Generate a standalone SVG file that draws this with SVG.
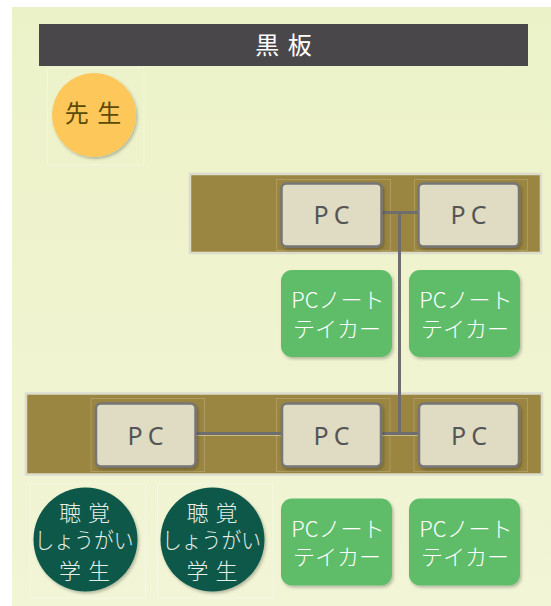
<svg xmlns="http://www.w3.org/2000/svg" width="551" height="606" viewBox="0 0 551 606">
  <defs>
    <linearGradient id="bg" x1="0" y1="0" x2="0" y2="1">
      <stop offset="0" stop-color="#ecf2c8"/>
      <stop offset="1" stop-color="#f2f5d6"/>
    </linearGradient>
    <filter id="sh" x="-20%" y="-20%" width="150%" height="150%">
      <feDropShadow dx="1.5" dy="2" stdDeviation="1.5" flood-color="#000" flood-opacity="0.25"/>
    </filter>
    <style>
      .jp { font-family: "Noto Sans CJK JP", "Noto Sans", sans-serif; }
      .desk { fill: #9a8640; stroke: #dcdccc; stroke-width: 2.5; }
      .cell { fill: none; stroke: #ffffff; stroke-opacity: 0.18; stroke-width: 1; }
      .pc { fill: #e0dbc3; stroke: #767676; stroke-width: 2.5; filter: url(#sh); }
      .pct { font-family: "Noto Sans", "Liberation Sans", sans-serif; font-size: 25px; fill: #555555; letter-spacing: 5px; text-anchor: middle; }
      .note { fill: #5fbd6a; filter: url(#sh); }
      .notet { font-family: "Noto Sans CJK JP", sans-serif; font-size: 22px; font-weight: 300; fill: #ffffff; text-anchor: middle; }
      .stu { fill: #0b5849; filter: url(#sh); }
      .stut { font-family: "Noto Sans CJK JP", sans-serif; font-size: 22px; font-weight: 300; fill: #e6efe8; text-anchor: middle; word-spacing: 2px; }
      .conn { stroke: #6e6e6e; stroke-width: 3; fill: none; }
      .hl { stroke: #d8d2a0; stroke-width: 1; stroke-opacity: 0.7; }
    </style>
  </defs>

  <rect x="12" y="7" width="539" height="599" fill="url(#bg)"/>

  <g id="blackboard">
    <rect x="39" y="24" width="489" height="42" fill="#4a474a"/>
    <text class="jp" x="283.5" y="54" font-size="24" fill="#ffffff" text-anchor="middle" word-spacing="3">黒 板</text>
  </g>

  <g id="teacher">
    <rect x="47.5" y="68" width="96.5" height="97" fill="none" stroke="#ffffff" stroke-opacity="0.35"/>
    <circle cx="94" cy="115" r="42" fill="#fdc75a" filter="url(#sh)"/>
    <text class="jp" x="93" y="122" font-size="24" fill="#5b4a05" text-anchor="middle" word-spacing="3">先 生</text>
  </g>

  <g id="desk-front">
    <rect class="desk" x="190" y="174" width="351" height="79"/>
    <rect class="cell" x="276.5" y="179.5" width="114" height="71"/>
    <rect class="cell" x="414.5" y="179.5" width="113" height="71"/>
  </g>

  <g id="desk-back">
    <rect class="desk" x="26" y="393.5" width="516" height="81"/>
    <rect class="cell" x="91" y="398.5" width="113.5" height="73"/>
    <rect class="cell" x="276.5" y="398.5" width="113.5" height="73"/>
    <rect class="cell" x="414" y="398.5" width="113.5" height="73"/>
  </g>

  <g id="connectors">
    <line class="hl" x1="196" y1="435.5" x2="282" y2="435.5"/>
    <line class="hl" x1="381" y1="435.5" x2="419" y2="435.5"/>
    <line class="conn" x1="381" y1="212.5" x2="419" y2="212.5"/>
    <line class="conn" x1="399.5" y1="211" x2="399.5" y2="433.5"/>
    <line class="conn" x1="196" y1="433.5" x2="282" y2="433.5"/>
    <line class="conn" x1="381" y1="433.5" x2="419" y2="433.5"/>
  </g>

  <g id="pc-front-1">
    <rect class="pc" x="281.5" y="183.5" width="100" height="63" rx="5"/>
    <text class="pct" x="334" y="224">PC</text>
  </g>
  <g id="pc-front-2">
    <rect class="pc" x="418.5" y="183.5" width="100.5" height="63" rx="5"/>
    <text class="pct" x="471" y="224">PC</text>
  </g>

  <g id="pc-back-1">
    <rect class="pc" x="96" y="403.5" width="99.5" height="63" rx="5"/>
    <text class="pct" x="148" y="444.5">PC</text>
  </g>
  <g id="pc-back-2">
    <rect class="pc" x="282" y="403.5" width="99" height="63" rx="5"/>
    <text class="pct" x="334" y="444.5">PC</text>
  </g>
  <g id="pc-back-3">
    <rect class="pc" x="419" y="403.5" width="100" height="63" rx="5"/>
    <text class="pct" x="471.5" y="444.5">PC</text>
  </g>

  <g id="notetaker-front-1">
    <rect class="note" x="281" y="270" width="111" height="87" rx="11"/>
    <text class="notet" x="338" y="308">PCノート</text>
    <text class="notet" x="337" y="336.5">テイカー</text>
  </g>
  <g id="notetaker-front-2">
    <rect class="note" x="409" y="270" width="111" height="87" rx="11"/>
    <text class="notet" x="466" y="308">PCノート</text>
    <text class="notet" x="465" y="336.5">テイカー</text>
  </g>

  <g id="student-1">
    <rect x="30" y="484" width="115.5" height="114" fill="none" stroke="#ffffff" stroke-opacity="0.35"/>
    <circle class="stu" cx="85.5" cy="539.5" r="52"/>
    <text class="stut" x="84.5" y="520.5">聴 覚</text>
    <text class="stut" x="84" y="547.5" textLength="99" lengthAdjust="spacingAndGlyphs">しょうがい</text>
    <text class="stut" x="84.5" y="579">学 生</text>
  </g>
  <g id="student-2">
    <rect x="157.5" y="484" width="115.5" height="114" fill="none" stroke="#ffffff" stroke-opacity="0.35"/>
    <circle class="stu" cx="212.5" cy="539.5" r="52"/>
    <text class="stut" x="212" y="520.5">聴 覚</text>
    <text class="stut" x="211.5" y="547.5" textLength="99" lengthAdjust="spacingAndGlyphs">しょうがい</text>
    <text class="stut" x="212" y="579">学 生</text>
  </g>

  <g id="notetaker-back-1">
    <rect class="note" x="281" y="498.5" width="111" height="87" rx="11"/>
    <text class="notet" x="338" y="536.5">PCノート</text>
    <text class="notet" x="337" y="565">テイカー</text>
  </g>
  <g id="notetaker-back-2">
    <rect class="note" x="409" y="498.5" width="111" height="87" rx="11"/>
    <text class="notet" x="466" y="536.5">PCノート</text>
    <text class="notet" x="465" y="565">テイカー</text>
  </g>
</svg>
